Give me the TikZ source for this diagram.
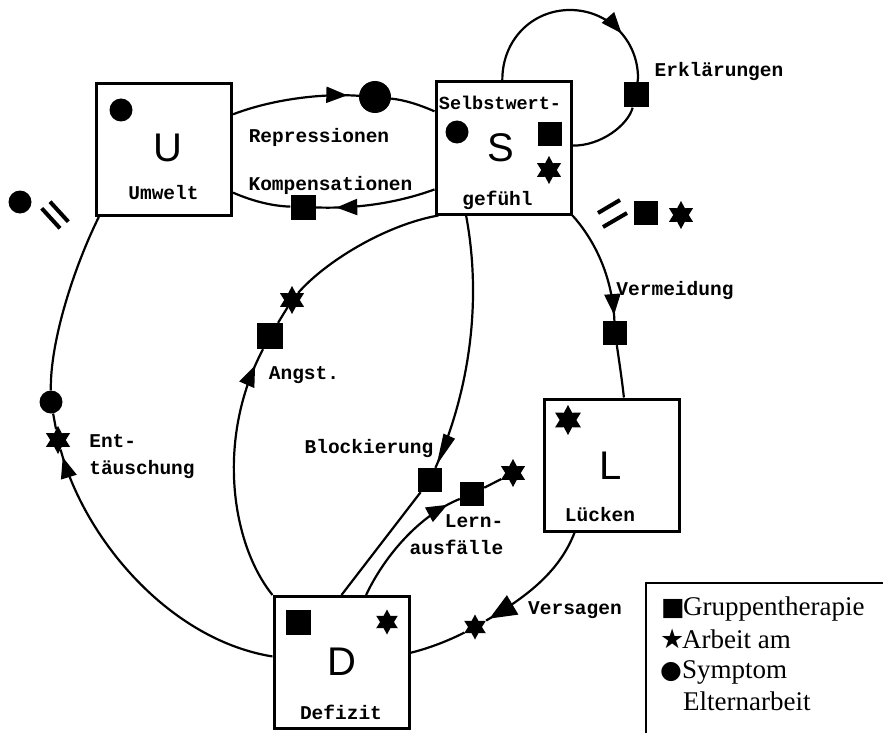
\documentclass[tikz,border=0pt]{standalone}
\usepackage{fontspec}
\setmainfont{Liberation Serif}
\newfontfamily\twfont{Liberation Mono}
\newfontfamily\bigsans{Liberation Sans}
\newfontfamily\symfont{DejaVu Sans}
\usetikzlibrary{arrows.meta,decorations.markings,shapes.geometric}
\newcommand\legsym[2]{\makebox[22pt][l]{\symfont\fontsize{#1}{#1}\selectfont #2}}
\begin{document}
\begin{tikzpicture}[x=1pt,y=-1pt,
  box/.style={draw, line width=3pt, minimum width=135pt, minimum height=132pt, inner sep=0pt},
  big/.style={font=\bigsans\fontsize{40}{40}\selectfont, inner sep=0pt},
  tw/.style={font=\twfont\bfseries\fontsize{19.5}{27}\selectfont, inner sep=0pt},
  leg/.style={font=\fontsize{27}{32}\selectfont, inner sep=0pt},
  sqm/.style={fill, rectangle, minimum size=24pt, inner sep=0pt},
  dotm/.style={fill, circle, minimum size=23pt, inner sep=0pt},
  starm/.style={fill, star, star points=6, star point ratio=1.8, minimum size=28pt, inner sep=0pt},
  conn/.style={line width=2.2pt},
  brk/.style={line width=4pt},
  mk/.style={postaction={decorate,decoration={markings,mark=at position #1 with {\arrow{Triangle[length=21pt,width=16pt]}}}}},
  mkthin/.style={postaction={decorate,decoration={markings,mark=at position #1 with {\arrow{Triangle[length=32pt,width=12pt]}}}}},
  mkbig/.style={postaction={decorate,decoration={markings,mark=at position #1 with {\arrow{Triangle[length=27pt,width=22pt]}}}}}
]
\useasboundingbox (0,0) rectangle (883,733);
\fill[white] (0,0) rectangle (883,733);

% boxes
\node[box] (U) at (164,149.5) {};
\node[big] (Ul) at (168,148) {U};
\node[tw] (Ut) at (163.5,193) {Umwelt};
\node[dotm] (Ud) at (121,110) {};

\node[box] (S) at (503.5,148) {};
\node[tw, font=\twfont\bfseries\fontsize{18.5}{27}\selectfont] (St1) at (500,103) {Selbstwert-};
\node[big] (Sl) at (501,148) {S};
\node[tw] (St2) at (497.5,200) {gefühl};
\node[dotm] (Sd) at (457,132) {};
\node[sqm] (Ss) at (550,134) {};
\node[starm] (Sst) at (549,170) {};

\node[box] (L) at (612,465) {};
\node[starm, minimum size=30pt] (Lst) at (568,420) {};
\node[big] (Ll) at (611,466) {L};
\node[tw] (Lt) at (600,515) {Lücken};

\node[box] (D) at (341.5,662.5) {};
\node[sqm, minimum size=25pt] (Ds) at (298,622) {};
\node[starm, minimum size=25pt] (Dst) at (387,622) {};
\node[big] (Dl) at (342,662) {D};
\node[tw] (Dt) at (341,712) {Defizit};

% free marks
\node[dotm] (od) at (20,202) {};
\draw[brk] (41.7,208.3) -- (60,228.3);
\draw[brk] (50,201.7) -- (68.3,221.7);
\draw[brk] (598,213) -- (620,200);
\draw[brk] (603,227) -- (627,213);
\node[sqm] (rs) at (646,213) {};
\node[starm] (rst) at (681,215) {};

% markers on connectors
\node[dotm, minimum size=32pt] (rep) at (375,97) {};
\node[sqm, minimum size=25pt] (komp) at (303,207) {};
\node[sqm, minimum size=25pt] (erk) at (636,95) {};
\node[sqm, minimum size=26pt] (asq) at (270,336) {};
\node[starm] (ast) at (292,300) {};
\node[dotm] (ed) at (51,402) {};
\node[starm] (est) at (58,440) {};
\node[sqm] (vsq) at (615,333) {};
\node[sqm] (bsq) at (430,480) {};
\node[sqm] (lsq) at (472,494) {};
\node[starm] (lst) at (513,473) {};
\node[starm, minimum size=25pt] (vst) at (475,627) {};

% connectors
\draw[conn, mk=0.91] (U.27) .. controls (270,100) and (320,93) .. (rep);
\draw[conn] (rep) .. controls (405,100) and (420,105) .. (S.152);

\draw[conn, mk=0.83] (S.211.5) .. controls (400,202) and (360,209) .. (komp);
\draw[conn] (komp) .. controls (270,206) and (250,200) .. (U.-32);

\draw[conn, mk=0.76] (S.91) .. controls (502,40) and (532,10) .. (570,10) .. controls (608,10) and (638,40) .. (638,78) -- (erk);
\draw[conn] (erk) .. controls (628,125) and (601,146) .. (S.2);

\draw[conn, mk=0.975] (D.175) .. controls (170,640) and (85,540) .. (est);
\draw[conn] (est) -- (ed);
\draw[conn] (ed) .. controls (50,340) and (75,265) .. (U.226.7);

\draw[conn, mk=0.95] (S.south east) .. controls (590,235) and (612,270) .. (vsq);
\draw[conn] (vsq) .. controls (619,360) and (622,380) .. (L.80.8);

\draw[conn, mk=0.93] (D.north west) .. controls (232,545) and (215,440) .. (asq);
\draw[conn] (asq) -- (ast);
\draw[conn] (ast) .. controls (325,262) and (385,225) .. (S.226);

\draw[conn, mkthin=0.99] (S.241.4) .. controls (482,300) and (470,390) .. (bsq);
\draw[conn] (bsq) -- (D.north);

\draw[conn, mk=0.9] (D.70.8) .. controls (385,555) and (420,515) .. (lsq);
\draw[conn] (lsq) -- (lst);

\draw[conn, mkbig=0.97] (L.241.4) .. controls (560,570) and (530,595) .. (vst);
\draw[conn] (vst) .. controls (450,640) and (430,648) .. (D.8.7);

% labels
\node[tw] (t1) at (319,137) {Repressionen};
\node[tw] (t2) at (330.5,185) {Kompensationen};
\node[tw] (t3) at (719,72) {Erklärungen};
\node[tw] (t4) at (675,290) {Vermeidung};
\node[tw] (t5) at (304,375) {Angst.};
\node[tw, align=left] (t6) at (142,457) {Ent-\\täuschung};
\node[tw] (t7) at (369,448) {Blockierung};
\node[tw, align=right] (t8) at (456.5,535) {Lern-\\ausfälle};
\node[tw] (t9) at (575,610) {Versagen};

% legend
\begin{scope}
\clip (0,0) rectangle (883,733);
\draw[line width=1.3pt] (646,583) rectangle (950,800);
\end{scope}
\node[leg, anchor=base west] (g1) at (661,615) {\legsym{25}{■}Gruppentherapie};
\node[leg, anchor=base west] (g2) at (660,648) {\legsym{27}{★}Arbeit am};
\node[leg, anchor=base west] (g3) at (660,678) {\legsym{25}{●}Symptom};
\node[leg, anchor=base west] (g4) at (683,710) {Elternarbeit};
\end{tikzpicture}
\end{document}
